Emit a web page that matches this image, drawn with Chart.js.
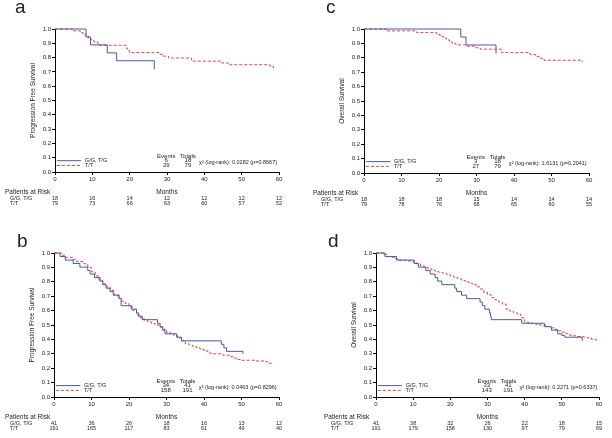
<!DOCTYPE html>
<html>
<head>
<meta charset="utf-8">
<script src="https://cdn.jsdelivr.net/npm/chart.js@4"></script>
<style>
body { margin: 0; background: #fff; }
#wrap { position: relative; width: 612px; height: 438px; }
canvas { position: absolute; }
</style>
</head>
<body>
<div id="wrap">
<canvas id="pa" width="306" height="219" style="left:0;top:0"></canvas>
<canvas id="pc" width="306" height="219" style="left:306px;top:0"></canvas>
<canvas id="pb" width="306" height="219" style="left:0;top:219px"></canvas>
<canvas id="pd" width="306" height="219" style="left:306px;top:219px"></canvas>
</div>
<script>
// groups and months at risk
const groups = ["G/G, T/G", "T/T"];
const riskMonths = [0, 10, 20, 30, 40, 50, 60];

// a : progression free survival, small cohort
const aBlueT = [0, 8.3, 9.5, 14.0, 16.5, 26.6];
const aBlueS = [1.0, 0.944, 0.889, 0.833, 0.778, 0.718];
const aRedT = [0, 4.8, 6.8, 7.5, 8.3, 9.0, 9.6, 10.4, 11.5, 19.2, 19.9, 28.0, 29.0, 30.4, 36.6, 44.7, 46.5, 57.6, 58.5];
const aRedS = [1.0, 0.987, 0.975, 0.962, 0.949, 0.937, 0.924, 0.911, 0.886, 0.861, 0.835, 0.823, 0.810, 0.797, 0.775, 0.762, 0.750, 0.737, 0.725];
const aEvents = [6, 29];
const aTotals = [18, 79];
const aChi = "0.0282 (p=0.8667)";
const aRiskBlue = [18, 16, 14, 12, 12, 12, 12];
const aRiskRed = [79, 73, 66, 63, 60, 57, 52];

// c : overall survival, small cohort
const cBlueT = [0, 25.8, 27.2, 35.2];
const cBlueS = [1.0, 0.944, 0.889, 0.83];
const cRedT = [0, 6.0, 14.0, 19.4, 20.3, 21.2, 22.0, 22.8, 23.5, 24.5, 27.5, 29.5, 31.0, 36.7, 44.3, 45.7, 47.0, 48.0, 58.2];
const cRedS = [1.0, 0.987, 0.975, 0.962, 0.949, 0.937, 0.924, 0.911, 0.899, 0.890, 0.880, 0.870, 0.860, 0.836, 0.823, 0.810, 0.797, 0.783, 0.770];
const cEvents = [3, 27];
const cTotals = [18, 79];
const cChi = "1.6131 (p=0.2041)";
const cRiskBlue = [18, 18, 18, 15, 14, 14, 14];
const cRiskRed = [79, 78, 76, 68, 65, 60, 55];

// b : progression free survival, large cohort
const bBlueT = [0, 1.6, 3.0, 5.1, 6.9, 9.0, 9.6, 10.8, 12.3, 13.0, 13.9, 14.9, 15.8, 17.4, 17.9, 20.7, 22.0, 22.5, 23.5, 27.6, 28.3, 29.0, 29.6, 32.7, 34.0, 44.6, 45.3, 46.0, 50.4];
const bBlueS = [1.0, 0.976, 0.951, 0.927, 0.902, 0.878, 0.854, 0.829, 0.805, 0.780, 0.756, 0.732, 0.707, 0.683, 0.634, 0.610, 0.585, 0.561, 0.537, 0.512, 0.488, 0.463, 0.439, 0.415, 0.390, 0.366, 0.342, 0.317, 0.300];
const bRedT = [0, 2, 3, 5, 6, 8, 9, 10, 11, 12, 13, 14, 15, 16, 17, 18, 19, 20, 21, 22, 23, 24, 25, 26, 27, 28, 29, 30, 31, 32, 33, 34, 35, 36, 37, 38, 39, 40, 41, 42, 45, 47, 48, 49, 50, 54, 56, 57, 58];
const bRedS = [1.0, 0.985, 0.97, 0.955, 0.94, 0.925, 0.90, 0.87, 0.84, 0.81, 0.785, 0.765, 0.74, 0.71, 0.685, 0.665, 0.65, 0.625, 0.60, 0.57, 0.55, 0.535, 0.52, 0.51, 0.50, 0.485, 0.47, 0.45, 0.44, 0.425, 0.41, 0.39, 0.37, 0.36, 0.35, 0.34, 0.33, 0.32, 0.305, 0.30, 0.29, 0.28, 0.27, 0.26, 0.255, 0.25, 0.245, 0.235, 0.22];
const bEvents = [34, 158];
const bTotals = [41, 191];
const bChi = "0.0463 (p=0.8296)";
const bRiskBlue = [41, 36, 26, 18, 16, 13, 12];
const bRiskRed = [191, 165, 117, 83, 61, 49, 40];

// d : overall survival, large cohort
const dBlueT = [0, 2.4, 5.5, 10.3, 11.4, 13.4, 14.6, 15.9, 16.6, 17.7, 21.2, 21.7, 23.0, 24.4, 28.0, 28.6, 29.3, 30.5, 30.8, 31.0, 39.2, 45.4, 47.2, 48.9, 50.0, 50.8, 55.5];
const dBlueS = [1.0, 0.976, 0.951, 0.927, 0.902, 0.878, 0.854, 0.829, 0.805, 0.780, 0.756, 0.732, 0.707, 0.683, 0.659, 0.634, 0.610, 0.585, 0.561, 0.537, 0.512, 0.488, 0.464, 0.439, 0.427, 0.415, 0.39];
const dRedT = [0, 2, 3, 4, 5, 6, 8, 10, 11, 12, 13, 14, 15, 16, 17, 18, 19, 20, 21, 22, 23, 24, 25, 26, 27, 28, 29, 30, 31, 32, 33, 34, 35, 36, 37, 38, 39, 40, 41, 42, 43, 44, 45, 46, 47, 48, 49, 50, 51, 52, 53, 54, 56, 57, 58, 59.3];
const dRedS = [1.0, 0.99, 0.975, 0.97, 0.96, 0.95, 0.945, 0.935, 0.925, 0.91, 0.90, 0.89, 0.88, 0.87, 0.865, 0.86, 0.85, 0.84, 0.83, 0.82, 0.81, 0.80, 0.79, 0.78, 0.765, 0.75, 0.725, 0.71, 0.69, 0.675, 0.66, 0.645, 0.61, 0.595, 0.585, 0.575, 0.55, 0.52, 0.515, 0.51, 0.505, 0.50, 0.495, 0.49, 0.48, 0.47, 0.46, 0.45, 0.44, 0.43, 0.425, 0.42, 0.415, 0.41, 0.40, 0.385];
const dEvents = [33, 143];
const dTotals = [41, 191];
const dChi = "0.2271 (p=0.6337)";
const dRiskBlue = [41, 38, 32, 26, 22, 18, 15];
const dRiskRed = [191, 179, 158, 130, 97, 79, 69];

const FONT = '"Liberation Sans", Arial, sans-serif';
const BLUE = '#4b5a9b';
const RED = '#e8424a';
const INK = '#222';

// all the text that sits around a KM plot
const kmText = {
    id: 'kmText',
    afterDraw(chart, args, o) {
        const ctx = chart.ctx;
        const xs = chart.scales.x, ys = chart.scales.y, a = chart.chartArea;
        ctx.save();
        ctx.fillStyle = INK;

        // panel letter
        ctx.font = '19px ' + FONT;
        ctx.textAlign = 'left';
        ctx.textBaseline = 'alphabetic';
        ctx.fillText(o.letter, o.letterX, o.letterY);

        // y axis title
        ctx.font = '6.5px ' + FONT;
        ctx.save();
        ctx.translate(a.left - 22, (a.top + a.bottom) / 2);
        ctx.rotate(-Math.PI / 2);
        ctx.textAlign = 'center';
        ctx.textBaseline = 'middle';
        ctx.fillText(o.yTitle, 0, 0);
        ctx.restore();

        // legend inside the plot
        const yB = ys.getPixelForValue(0.079), yR = ys.getPixelForValue(0.046);
        ctx.lineWidth = 1;
        ctx.strokeStyle = BLUE;
        ctx.beginPath(); ctx.moveTo(xs.getPixelForValue(0.5), yB); ctx.lineTo(xs.getPixelForValue(7), yB); ctx.stroke();
        ctx.strokeStyle = RED;
        ctx.setLineDash([3, 2]);
        ctx.beginPath(); ctx.moveTo(xs.getPixelForValue(0.5), yR); ctx.lineTo(xs.getPixelForValue(7), yR); ctx.stroke();
        ctx.setLineDash([]);
        ctx.font = '5.5px ' + FONT;
        ctx.textBaseline = 'middle';
        ctx.fillText(groups[0], xs.getPixelForValue(8), yB);
        ctx.fillText(groups[1], xs.getPixelForValue(8), yR);

        // events / totals
        ctx.font = '6px ' + FONT;
        ctx.textAlign = 'center';
        const yH = ys.getPixelForValue(0.108);
        ctx.fillText('Events', xs.getPixelForValue(29.8), yH);
        ctx.fillText('Totals', xs.getPixelForValue(35.6), yH);
        ctx.fillText(String(o.events[0]), xs.getPixelForValue(29.8), yB);
        ctx.fillText(String(o.events[1]), xs.getPixelForValue(29.8), yR);
        ctx.fillText(String(o.totals[0]), xs.getPixelForValue(35.6), yB);
        ctx.fillText(String(o.totals[1]), xs.getPixelForValue(35.6), yR);

        // log-rank test
        ctx.textAlign = 'left';
        ctx.font = '5.5px ' + FONT;
        const x0 = xs.getPixelForValue(38.6);
        ctx.fillText('\u03C7\u00B2 (log-rank): ' + o.chi, x0, ys.getPixelForValue(0.065), xs.getPixelForValue(60) - x0);

        // patients at risk table
        ctx.font = '6.5px ' + FONT;
        ctx.fillText('Patients at Risk', o.riskX, a.bottom + 20);
        ctx.textAlign = 'center';
        ctx.fillText('Months', xs.getPixelForValue(30), a.bottom + 20);
        ctx.font = '5.5px ' + FONT;
        ctx.textAlign = 'left';
        ctx.fillText(groups[0], o.rowX, a.bottom + 26);
        ctx.fillText(groups[1], o.rowX, a.bottom + 31.5);
        ctx.textAlign = 'center';
        riskMonths.forEach((m, i) => {
            ctx.fillText(String(o.riskBlue[i]), xs.getPixelForValue(m), a.bottom + 26);
            ctx.fillText(String(o.riskRed[i]), xs.getPixelForValue(m), a.bottom + 31.5);
        });
        ctx.restore();
    }
};

function makePanel(id, blueT, blueS, redT, redS, box, text) {
    new Chart(document.getElementById(id), {
        type: 'line',
        data: {
            datasets: [
                {
                    data: blueT.map((t, i) => ({ x: t, y: blueS[i] })),
                    borderColor: BLUE, borderWidth: 1, stepped: 'before',
                    pointRadius: 0, clip: false
                },
                {
                    data: redT.map((t, i) => ({ x: t, y: redS[i] })),
                    borderColor: RED, borderWidth: 1, borderDash: [3, 2], stepped: 'before',
                    pointRadius: 0, clip: false
                }
            ]
        },
        options: {
            responsive: false,
            animation: false,
            devicePixelRatio: 1,
            layout: { padding: { top: box.top, right: 306 - box.right, bottom: 219 - box.bottom - 10, left: 0 } },
            scales: {
                x: {
                    type: 'linear', min: 0, max: 60,
                    ticks: { stepSize: 10, color: INK, font: { size: 6, family: FONT }, padding: 1, maxRotation: 0 },
                    grid: { drawOnChartArea: false, tickLength: 3, color: '#000' },
                    border: { color: '#000', width: 1 },
                    afterFit(s) { s.height = 10; }
                },
                y: {
                    min: 0, max: 1,
                    ticks: { stepSize: 0.1, color: INK, font: { size: 6, family: FONT }, padding: 1, callback: v => v.toFixed(1) },
                    grid: { drawOnChartArea: false, tickLength: 3, color: '#000' },
                    border: { color: '#000', width: 1 },
                    afterFit(s) { s.width = box.left; }
                }
            },
            plugins: {
                legend: { display: false },
                tooltip: { enabled: false },
                kmText: text
            }
        },
        plugins: [kmText]
    });
}

makePanel('pa', aBlueT, aBlueS, aRedT, aRedS,
    { left: 55, right: 279, top: 29, bottom: 172 },
    { letter: 'a', letterX: 15, letterY: 13, yTitle: 'Progression Free Survival', events: aEvents, totals: aTotals, chi: aChi, riskX: 5, rowX: 10, riskBlue: aRiskBlue, riskRed: aRiskRed });
makePanel('pc', cBlueT, cBlueS, cRedT, cRedS,
    { left: 58, right: 283, top: 29, bottom: 173 },
    { letter: 'c', letterX: 20, letterY: 13, yTitle: 'Overall Survival', events: cEvents, totals: cTotals, chi: cChi, riskX: 7, rowX: 15, riskBlue: cRiskBlue, riskRed: cRiskRed });
makePanel('pb', bBlueT, bBlueS, bRedT, bRedS,
    { left: 54, right: 279, top: 34, bottom: 178 },
    { letter: 'b', letterX: 17, letterY: 28, yTitle: 'Progression Free Survival', events: bEvents, totals: bTotals, chi: bChi, riskX: 5, rowX: 10, riskBlue: bRiskBlue, riskRed: bRiskRed });
makePanel('pd', dBlueT, dBlueS, dRedT, dRedS,
    { left: 70, right: 293, top: 34, bottom: 178 },
    { letter: 'd', letterX: 22, letterY: 28, yTitle: 'Overall Survival', events: dEvents, totals: dTotals, chi: dChi, riskX: 18, rowX: 25, riskBlue: dRiskBlue, riskRed: dRiskRed });
</script>
</body>
</html>
